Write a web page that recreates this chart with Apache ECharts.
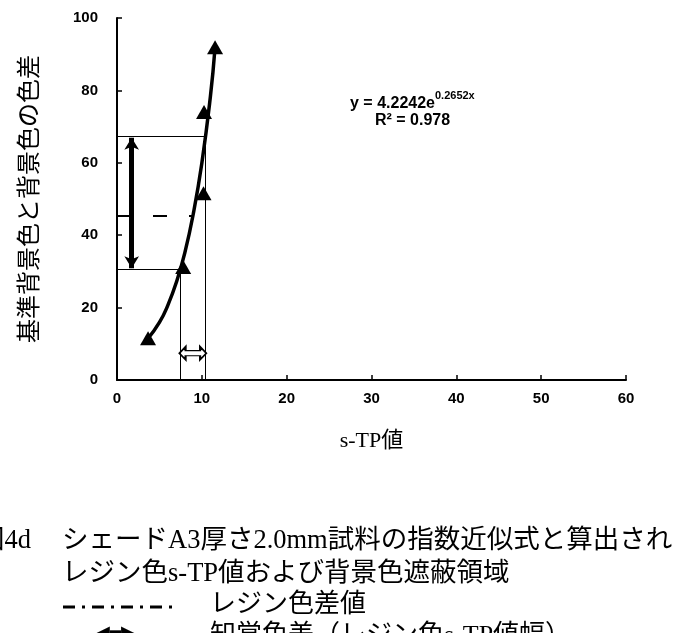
<!DOCTYPE html>
<html lang="ja">
<head>
    <meta charset="UTF-8">
    <title>s-TP chart</title>
    <script src="https://cdn.jsdelivr.net/npm/echarts@6/dist/echarts.min.js"></script>
    <style>
        html, body { margin: 0; padding: 0; background: #fff; }
        #main { width: 680px; height: 633px; }
    </style>
</head>
<body>
<div id="main"></div>
<script>
    // 測定点（三角）
    var pointX = [3.66, 7.8, 10.2, 10.26, 11.56];
    var pointY = [11.5, 31.2, 51.6, 74, 91.9];

    // 指数近似曲線（図から読んだ点）
    var curveX = [3.66, 5, 6, 7, 8, 9, 10, 11, 11.56];
    var curveY = [11.5, 15.9, 20.7, 27.0, 35.2, 46.0, 59.9, 78.1, 91.9];

    // 背景色遮蔽領域
    var upperY = 67.2, lowerY = 30.6;
    var upperX = 10.45, lowerX = 7.43;
    var resinY = 45.3, resinEndX = 9.0;
    var arrowX = 1.73;
    var rangeArrowY = 7.4;

    var xTicks = [0, 10, 20, 30, 40, 50, 60];
    var yTicks = [0, 20, 40, 60, 80, 100];

    var serif = '"Liberation Serif", "Noto Sans CJK JP", serif';
    var sans = '"Liberation Sans", Arial, sans-serif';

    var myChart = echarts.init(document.getElementById('main'), null, {renderer: 'canvas'});

    function pts(xs, ys) {
        return xs.map(function (x, i) { return [x, ys[i]]; });
    }

    var thin = {color: '#000', width: 1, type: 'solid'};

    var option = {
        animation: false,
        backgroundColor: '#fff',
        grid: {left: 117, top: 18, right: 54, bottom: 253},
        xAxis: {
            type: 'value',
            min: xTicks[0], max: xTicks[xTicks.length - 1], interval: 10,
            name: 's-TP値',
            nameLocation: 'middle',
            nameGap: 50,
            nameTextStyle: {fontFamily: serif, fontSize: 22, color: '#000'},
            axisLine: {lineStyle: {color: '#000', width: 2}},
            axisTick: {inside: true, length: 5, lineStyle: {color: '#000', width: 1.5}},
            axisLabel: {margin: 11, fontFamily: sans, fontWeight: 'bold', fontSize: 15, color: '#000'},
            splitLine: {show: false}
        },
        yAxis: {
            type: 'value',
            min: yTicks[0], max: yTicks[yTicks.length - 1], interval: 20,
            name: '基準背景色と背景色の色差',
            nameLocation: 'middle',
            nameRotate: 90,
            nameGap: 74,
            nameTextStyle: {fontFamily: serif, fontSize: 24, color: '#000'},
            axisLine: {show: true, lineStyle: {color: '#000', width: 2}},
            axisTick: {show: true, inside: true, length: 5, lineStyle: {color: '#000', width: 1.5}},
            axisLabel: {margin: 19, fontFamily: sans, fontWeight: 'bold', fontSize: 15, color: '#000'},
            splitLine: {show: false}
        },
        series: [
            {
                // 領域を示す補助線
                type: 'line',
                data: [],
                silent: true,
                markLine: {
                    silent: true,
                    symbol: ['none', 'none'],
                    label: {show: false},
                    lineStyle: thin,
                    data: [
                        [{coord: [0, upperY]}, {coord: [upperX, upperY]}],
                        [{coord: [upperX, upperY]}, {coord: [upperX, 0]}],
                        [{coord: [0, lowerY]}, {coord: [lowerX, lowerY]}],
                        [{coord: [lowerX, lowerY]}, {coord: [lowerX, 0]}],
                        [{coord: [0, resinY], lineStyle: {color: '#000', width: 2, type: [14, 22]}},
                            {coord: [resinEndX, resinY]}]
                    ]
                }
            },
            {
                // 太い両矢印
                type: 'line',
                data: [],
                silent: true,
                markLine: {
                    silent: true,
                    symbol: ['arrow', 'arrow'],
                    symbolSize: [11, 12],
                    label: {show: false},
                    lineStyle: {color: '#000', width: 5, type: 'solid'},
                    data: [
                        [{coord: [arrowX, lowerY + 0.3]}, {coord: [arrowX, upperY - 0.3]}]
                    ]
                }
            },
            {
                // 近似曲線
                type: 'line',
                data: pts(curveX, curveY),
                smooth: true,
                showSymbol: false,
                lineStyle: {color: '#000', width: 3.5},
                z: 3
            },
            {
                type: 'scatter',
                data: pts(pointX, pointY),
                symbol: 'triangle',
                symbolSize: [16, 14],
                itemStyle: {color: '#000', opacity: 1},
                z: 4
            },
            {
                // 白抜き両矢印
                type: 'scatter',
                data: [[(lowerX + upperX) / 2, rangeArrowY]],
                symbol: 'path://M0,5 L6,0 L6,3 L20,3 L20,0 L26,5 L20,10 L20,7 L6,7 L6,10 Z',
                symbolSize: [27, 13],
                itemStyle: {color: '#fff', borderColor: '#000', borderWidth: 1.5, opacity: 1},
                z: 4
            }
        ],
        graphic: [
            {
                type: 'text', left: 350, top: 90,
                style: {
                    text: '{b|y = 4.2242e}{s|0.2652x}',
                    rich: {
                        b: {fontFamily: sans, fontWeight: 'bold', fontSize: 16, fill: '#000', lineHeight: 22, verticalAlign: 'bottom'},
                        s: {fontFamily: sans, fontWeight: 'bold', fontSize: 11, fill: '#000', lineHeight: 22, verticalAlign: 'top', padding: [0, 0, 9, 0]}
                    }
                }
            },
            {
                type: 'text', left: 375, top: 113,
                style: {text: 'R² = 0.978', fontFamily: sans, fontWeight: 'bold', fontSize: 16, fill: '#000'}
            },
            {
                type: 'text', left: -22, top: 528,
                style: {text: '図4d', fontFamily: serif, fontSize: 26.5, fill: '#000'}
            },
            {
                type: 'text', left: 62, top: 528,
                style: {text: 'シェードA3厚さ2.0mm試料の指数近似式と算出され', fontFamily: serif, fontSize: 26.5, fill: '#000'}
            },
            {
                type: 'text', left: 62, top: 561,
                style: {text: 'レジン色s-TP値および背景色遮蔽領域', fontFamily: serif, fontSize: 26.5, fill: '#000'}
            },
            {
                type: 'line', shape: {x1: 63, y1: 607, x2: 178, y2: 607},
                style: {stroke: '#000', lineWidth: 3, lineDash: [12, 7, 3, 7]}
            },
            {
                type: 'text', left: 210, top: 592,
                style: {text: 'レジン色差値', fontFamily: serif, fontSize: 26, fill: '#000'}
            },
            {
                type: 'text', left: 96, top: 624,
                style: {text: '◀━▶', fontFamily: sans, fontSize: 18, fill: '#000'}
            },
            {
                type: 'text', left: 210, top: 623,
                style: {text: '知覚色差（レジン色s-TP値幅）', fontFamily: serif, fontSize: 26, fill: '#000'}
            }
        ]
    };

    myChart.setOption(option);
</script>
</body>
</html>
